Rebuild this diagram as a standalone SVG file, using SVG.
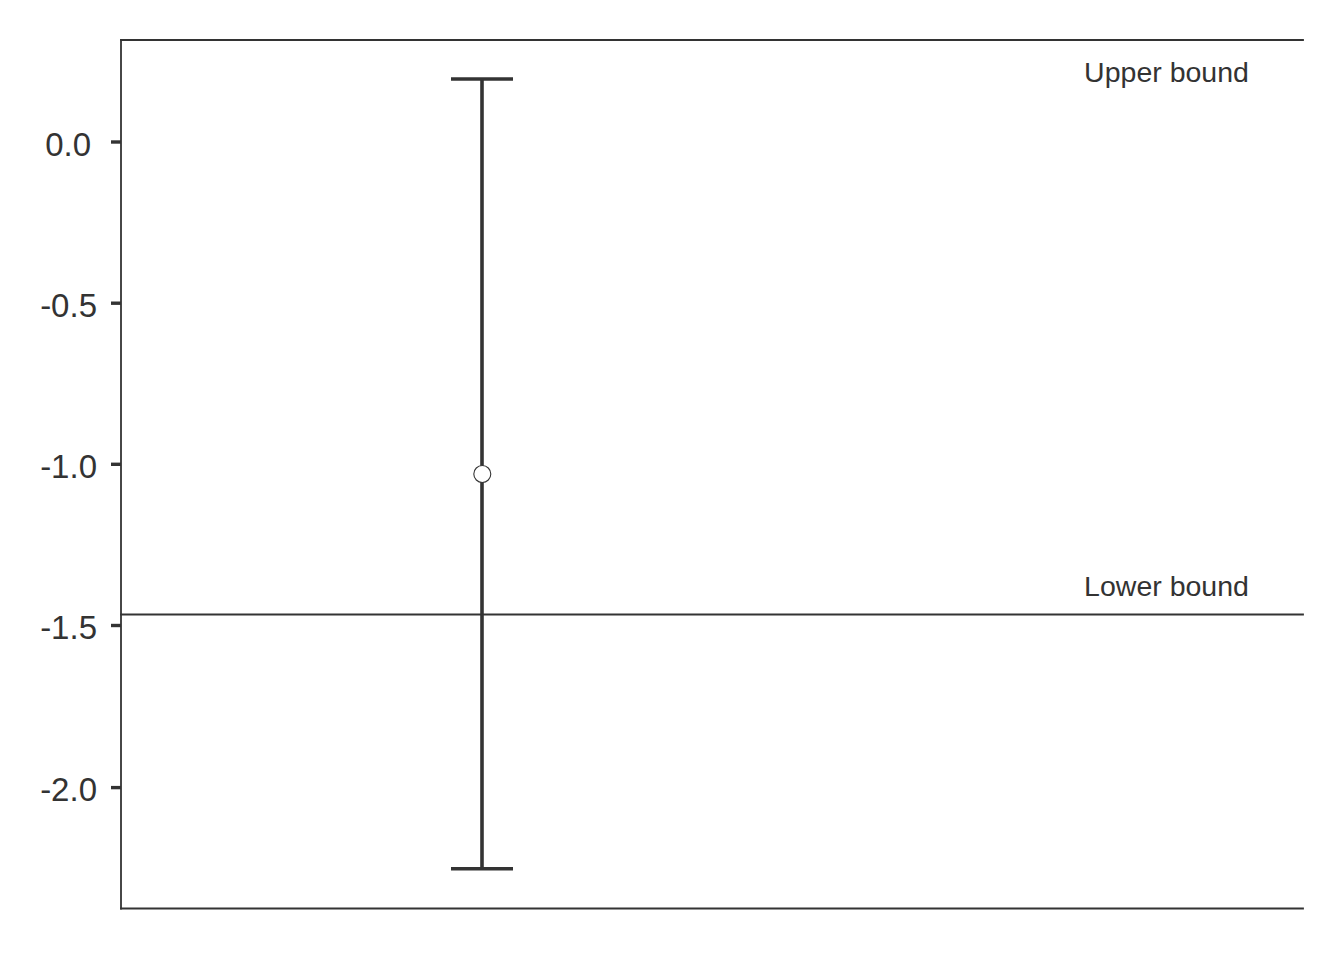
<svg xmlns="http://www.w3.org/2000/svg" width="1344" height="960" viewBox="0 0 1344 960">
<style>
.ax{stroke:#333333;stroke-width:1.8;fill:none;stroke-linecap:square}
.tick{stroke:#333333;stroke-width:3.4}
.lab{font-family:"Liberation Sans",Arial,sans-serif;font-size:33px;fill:#333333;text-anchor:end}
.ann{font-family:"Liberation Sans",Arial,sans-serif;font-size:28.5px;fill:#333333;text-anchor:middle}
.bar{stroke:#333333;stroke-width:3.6;fill:none}
</style>
<rect width="1344" height="960" fill="#ffffff"/>
<g id="axes">
<line class="ax" x1="121" y1="40" x2="1303" y2="40"/>
<line class="ax" x1="121" y1="40" x2="121" y2="908.5"/>
<line class="ax" x1="121" y1="908.5" x2="1303" y2="908.5"/>
<line class="tick" x1="111" y1="142" x2="121" y2="142"/>
<line class="tick" x1="111" y1="303.2" x2="121" y2="303.2"/>
<line class="tick" x1="111" y1="464.3" x2="121" y2="464.3"/>
<line class="tick" x1="111" y1="625.5" x2="121" y2="625.5"/>
<line class="tick" x1="111" y1="787.6" x2="121" y2="787.6"/>
<text class="lab" x="91" y="155.7">0.0</text>
<text class="lab" x="97" y="316.9">-0.5</text>
<text class="lab" x="97" y="478">-1.0</text>
<text class="lab" x="97" y="639.2">-1.5</text>
<text class="lab" x="97" y="801.3">-2.0</text>
</g>
<g id="connectors">
<line class="ax" x1="121" y1="614.5" x2="1303" y2="614.5"/>
</g>
<g id="errorbar">
<line class="bar" x1="482" y1="79" x2="482" y2="868.7"/>
<line class="bar" x1="451" y1="79" x2="513" y2="79"/>
<line class="bar" x1="451" y1="868.7" x2="513" y2="868.7"/>
<circle cx="482.3" cy="474" r="8.5" fill="#ffffff" stroke="#333333" stroke-width="1.1"/>
</g>
<g id="upper-label"><text class="ann" x="1166.5" y="82.3">Upper bound</text></g>
<g id="lower-label"><text class="ann" x="1166.5" y="595.7">Lower bound</text></g>
</svg>
